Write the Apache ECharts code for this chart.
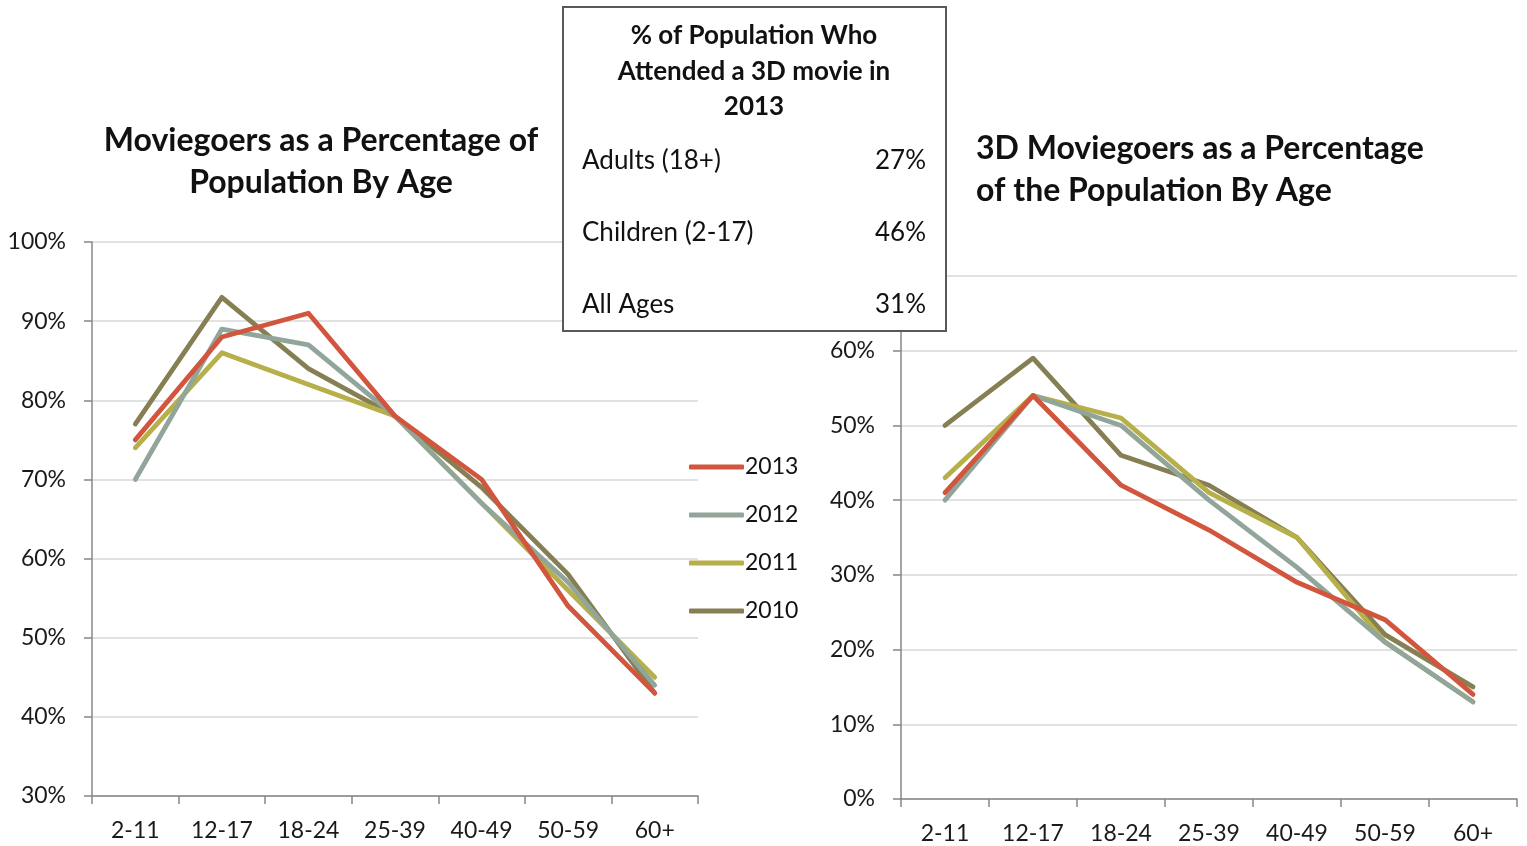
<!DOCTYPE html>
<html>
<head>
<meta charset="utf-8">
<script src="https://cdn.jsdelivr.net/npm/echarts@6/dist/echarts.min.js"></script>
<style>
html,body{margin:0;padding:0;background:#fff;}
#c{width:1527px;height:846px;}
</style>
</head>
<body>
<div id="c"></div>
<script>
const categories = ['2-11','12-17','18-24','25-39','40-49','50-59','60+'];
const years = ['2013','2012','2011','2010'];
const colors = ['#D2553D','#91A59B','#B6AF4A','#857F53'];

// Moviegoers as % of population (left chart)
const left2013 = [75, 88, 91, 78, 70, 54, 43];
const left2012 = [70, 89, 87, 78, 67, 57, 44];
const left2011 = [74, 86, 82, 78, 67, 56, 45];
const left2010 = [77, 93, 84, 78, 69, 58, 43];

// 3D moviegoers as % of population (right chart)
const right2013 = [41, 54, 42, 36, 29, 24, 14];
const right2012 = [40, 54, 50, 40, 31, 21, 13];
const right2011 = [43, 54, 51, 41, 35, 21, 13];
const right2010 = [50, 59, 46, 42, 35, 22, 15];

const leftTicks = [30, 100, 10];
const rightTicks = [0, 70, 10];

const boxTitle = ['% of Population Who', 'Attended a 3D movie in', '2013'];
const boxLabels = ['Adults (18+)', 'Children (2-17)', 'All Ages'];
const boxValues = ['27%', '46%', '31%'];

const FONT = 'Lato';
const leftData = [left2013, left2012, left2011, left2010];
const rightData = [right2013, right2012, right2011, right2010];

function xAxis(gi){
  return {
    type:'category', gridIndex:gi, data:categories, boundaryGap:true,
    axisLine:{lineStyle:{color:'#878787', width:1.5}},
    axisTick:{show:true, length:8, lineStyle:{color:'#878787', width:1.5}},
    axisLabel:{color:'#1a1a1a', fontSize:23, fontFamily:FONT, margin:23}
  };
}
function yAxis(gi, t){
  return {
    type:'value', gridIndex:gi, min:t[0], max:t[1], interval:t[2],
    axisLine:{show:true, lineStyle:{color:'#878787', width:1.5}},
    axisTick:{show:true, length:8, lineStyle:{color:'#878787', width:1.5}},
    splitLine:{lineStyle:{color:'#d9d9d9', width:1.5}},
    axisLabel:{color:'#1a1a1a', fontSize:23, fontFamily:FONT, margin:26, formatter:'{value}%'}
  };
}

const series = [];
years.forEach((y,i)=>{
  series.push({name:y, type:'line', xAxisIndex:0, yAxisIndex:0, data:leftData[i],
    showSymbol:false, symbol:'none', lineStyle:{color:colors[i], width:4.8, cap:'round', join:'round'}, itemStyle:{color:colors[i]}, z:10-i});
});
years.forEach((y,i)=>{
  series.push({name:y, type:'line', xAxisIndex:1, yAxisIndex:1, data:rightData[i],
    showSymbol:false, symbol:'none', lineStyle:{color:colors[i], width:4.8, cap:'round', join:'round'}, itemStyle:{color:colors[i]}, z:10-i});
});

const graphic = [];
graphic.push({type:'rect', shape:{x:563, y:7, width:383, height:324}, style:{fill:'#fff', stroke:'#555b58', lineWidth:2}, z:100});
boxTitle.forEach((t,i)=>{
  graphic.push({type:'text', x:754, y:36+i*35.5, z:101, style:{text:t, fill:'#111', font:'bold 26px '+FONT, align:'center', verticalAlign:'middle'}});
});
boxLabels.forEach((t,i)=>{
  graphic.push({type:'text', x:582, y:161+i*72, z:101, style:{text:t, fill:'#111', font:'26px '+FONT, align:'left', verticalAlign:'middle'}});
  graphic.push({type:'text', x:926, y:161+i*72, z:101, style:{text:boxValues[i], fill:'#111', font:'26px '+FONT, align:'right', verticalAlign:'middle'}});
});

const option = {
  backgroundColor:'#fff',
  animation:false,
  title:[
    {text:'Moviegoers as a Percentage of\nPopulation By Age', left:321, top:120, textAlign:'center', padding:0,
     textStyle:{fontFamily:FONT, fontSize:32, fontWeight:'bold', color:'#111', lineHeight:42}},
    {text:'3D Moviegoers as a Percentage\nof the Population By Age', left:976, top:128, textAlign:'left', padding:0,
     textStyle:{fontFamily:FONT, fontSize:32, fontWeight:'bold', color:'#111', lineHeight:42}}
  ],
  legend:{
    data:years, orient:'vertical', left:684, top:450, icon:'roundRect', itemWidth:55, itemHeight:5,
    itemGap:24, textStyle:{fontFamily:FONT, fontSize:23, color:'#111', lineHeight:24, padding:[0,0,0,-4]}
  },
  grid:[
    {left:92, top:242, width:606, height:554},
    {left:901, top:276, width:616, height:523}
  ],
  xAxis:[xAxis(0), xAxis(1)],
  yAxis:[yAxis(0, leftTicks), yAxis(1, rightTicks)],
  series:series,
  graphic:graphic
};
echarts.init(document.getElementById('c')).setOption(option);
</script>
</body>
</html>
